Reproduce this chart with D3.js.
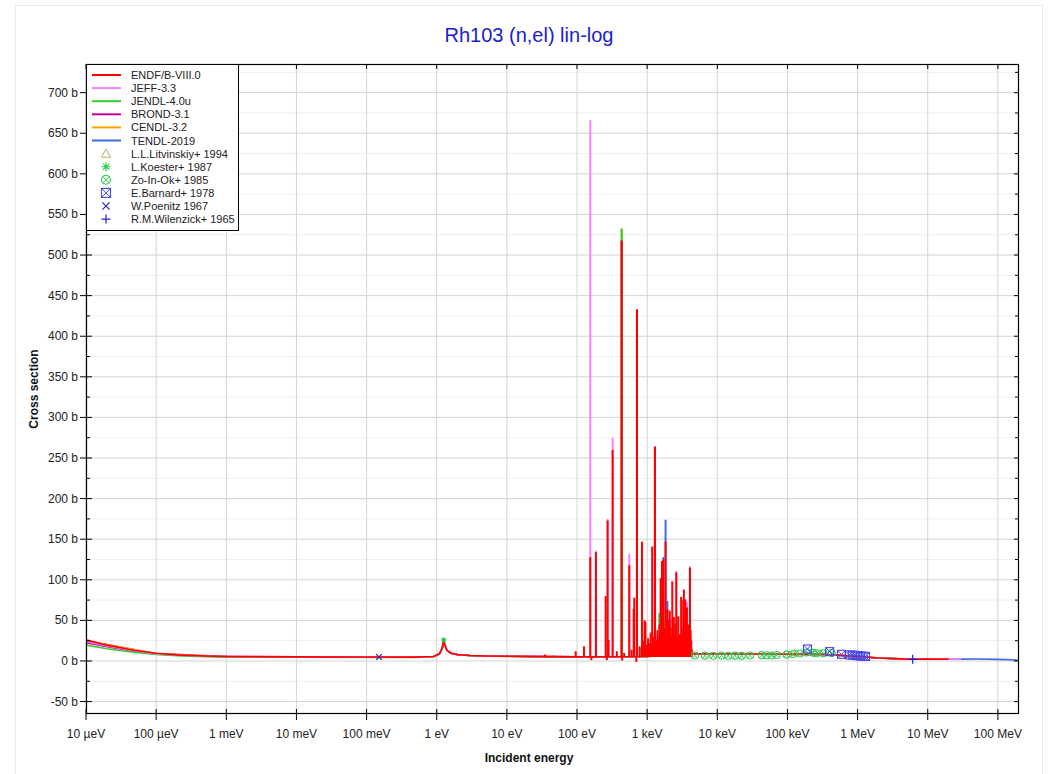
<!DOCTYPE html>
<html><head><meta charset="utf-8">
<script src="https://cdn.jsdelivr.net/npm/d3@7"></script>
<style>
html,body{margin:0;padding:0;background:#fff;}
text{font-family:"Liberation Sans",Arial,Helvetica,sans-serif;}
</style></head>
<body>
<svg id="chart" width="1063" height="774"></svg>
<script>
// ---------- data ----------
const title = "Rh103 (n,el) lin-log";
const xTickValues = [1e-5,1e-4,1e-3,1e-2,1e-1,1,10,100,1e3,1e4,1e5,1e6,1e7,1e8];
const xTickLabels = ["10 µeV","100 µeV","1 meV","10 meV","100 meV","1 eV","10 eV","100 eV","1 keV","10 keV","100 keV","1 MeV","10 MeV","100 MeV"];
const yMajorTicks = [-50,0,50,100,150,200,250,300,350,400,450,500,550,600,650,700];
const yMinorTicks = [-25,25,75,125,175,225,275,325,375,425,475,525,575,625,675,725];

// smooth parts of each evaluation: [energy eV, cross section b]
const endfCurve = [[1e-5,26],[2e-5,19.5],[3e-5,16.5],[5e-5,13],[1e-4,9.5],[2e-4,7.5],[5e-4,6.2],[1e-3,5.6],[1e-2,5.1],[0.1,4.9],[0.5,4.8],[0.9,5.5],[1.1,9],[1.2,16],[1.257,24.5],[1.3,20],[1.4,13],[1.6,9.5],[2,7.8],[3,6.8],[5,6.2],[10,5.8],[30,5.4],[100,5.0],[1000,5.5],[4500,9],[1e4,8.6],[1e5,8.5],[3e5,8.2],[6e5,6.8],[1e6,5.5],[2e6,3.6],[4e6,2.6],[6e6,2.2],[1e7,2.3],[2e7,2.1]];
const jeffCurve = [[1e-5,24],[2e-5,18.5],[5e-5,12.3],[1e-4,9.1],[2e-4,7.3],[5e-4,6.1],[1e-3,5.5],[1e-2,5.1],[0.1,4.9],[0.5,4.8],[0.9,5.5],[1.1,9],[1.2,16],[1.257,24.5],[1.3,20],[1.4,13],[1.6,9.5],[2,7.8],[3,6.8],[5,6.2],[10,5.8],[30,5.4],[100,5.0],[1000,5.5],[4500,9],[1e4,8.6],[1e5,8.5],[3e5,8.2],[6e5,6.8],[1e6,5.5],[2e6,3.6],[4e6,2.6],[6e6,2.2],[1e7,2.3],[2e7,2.1],[3e7,2.0]];
const jendlCurve = [[1e-5,19.5],[2e-5,15],[5e-5,10.5],[1e-4,8],[2e-4,6.5],[5e-4,5.4],[1e-3,5.0],[1e-2,4.6],[0.1,4.5],[0.5,4.5],[0.9,5.3],[1.1,9.5],[1.2,17],[1.257,27],[1.3,21],[1.4,13],[1.6,9.5],[2,7.6],[3,6.6],[5,6.0],[10,5.6],[30,5.3],[100,5.0],[1000,5.5],[4500,9],[1e4,8.6],[1e5,8.5],[3e5,8.2],[6e5,6.8],[1e6,5.5],[2e6,3.6],[4e6,2.6],[6e6,2.2],[1e7,2.3],[2e7,2.1]];
const brondCurve = [[1e-5,22.5],[2e-5,17.5],[5e-5,11.8],[1e-4,8.7],[2e-4,7.1],[5e-4,6.0],[1e-3,5.4],[1e-2,5.0],[0.1,4.8],[0.5,4.8],[0.9,5.5],[1.1,9],[1.2,16],[1.257,24.5],[1.3,20],[1.4,13],[1.6,9.5],[2,7.8],[3,6.8],[5,6.2],[10,5.8],[30,5.4],[100,5.0],[1000,5.5],[4500,9],[1e4,8.6],[1e5,8.5],[3e5,8.2],[6e5,6.8],[1e6,5.5],[2e6,3.6],[4e6,2.6],[6e6,2.2],[1e7,2.3],[2e7,2.1]];
const cendlCurve = [[1e-5,25],[1e-4,9.3],[1e-3,5.5],[1e-2,5.0],[0.1,4.8],[0.5,4.8],[0.9,5.5],[1.1,9],[1.2,16],[1.257,25],[1.3,20],[1.4,13],[1.6,9.5],[2,7.8],[3,6.8],[10,5.8],[100,5.0],[1000,5.5],[4500,9],[1e5,8.5],[3e5,8.2],[6e5,6.8],[1e6,5.5],[2e6,3.6],[6e6,2.2],[2e7,2.1]];
const tendlCurve = [[1e-5,25],[1e-4,9.3],[1e-3,5.5],[1e-2,5.0],[0.1,4.8],[0.5,4.8],[0.9,5.5],[1.1,9],[1.2,16],[1.257,24],[1.3,20],[1.4,13],[1.6,9.5],[2,7.8],[3,6.8],[10,5.8],[100,5.0],[1000,5.5],[4500,9],[1e5,8.5],[3e5,8.2],[6e5,6.8],[1e6,5.5],[2e6,3.6],[6e6,2.2],[2e7,2.2],[3e7,2.3],[5e7,2.4],[1e8,2.0],[1.5e8,1.5],[2e8,0.6]];

// resonance peaks (and interference dips): [energy eV, cross section b]
const endfPeaks = [[35,8],[46.8,6.5],[95.7,12],[125.6,18],[154.5,128],[160,1],[186,134],[256,80],[266,1],[273,173],[282,26],[322,260],[370,12],[433,518],[440,0.5],[470,10],[556,118],[600,14],[642,64],[655,78],[700,-1],[715,433],[780,18],[843,147],[880,25],[920,50],[945,48],[990,20],[1030,28],[1080,22],[1120,35],[1180,141],[1230,30],[1290,264],[1340,24],[1400,38],[1450,20],[1500,45],[1556,102],[1600,30],[1625,123],[1700,125],[1760,40],[1830,147],[1880,28],[1940,64],[2000,50],[2050,30],[2100,62],[2160,41],[2220,25],[2280,98],[2350,35],[2400,54],[2470,30],[2530,45],[2600,109],[2680,28],[2770,55],[2850,33],[2940,33],[3050,79],[3130,40],[3200,22],[3270,75],[3340,88],[3420,30],[3490,76],[3580,35],[3690,66],[3800,28],[3900,45],[4000,30],[4070,115],[4160,38],[4250,25],
  [1010,15],[1060,18],[1150,20],[1200,16],[1260,22],[1310,18],[1370,26],[1420,30],[1475,22],[1530,28],[1580,18],[1650,35],[1730,26],[1790,30],[1860,22],[1910,35],[1970,26],[2030,20],[2070,38],[2130,24],[2190,30],[2250,20],[2310,28],[2380,22],[2430,32],[2500,24],[2570,30],[2640,20],[2720,26],[2810,22],[2890,30],[2990,24],[3090,20],[3160,32],[3240,26],[3300,30],[3380,22],[3450,34],[3530,26],[3630,28],[3740,22],[3850,32],[3950,24],[4030,26],[4110,30],[4200,22],[4300,15]];
const jeffPeaks = [[154.5,666],[186,136],[273,175],[322,275],[556,132],[2600,111],[3690,73],[4070,117]];
const jendlPeaks = [[433,532],[789,16],[1490,59],[1700,60]];
const brondPeaks = [[433,518],[715,433],[1290,264]];
const cendlPeaks = [[433,533]];
const tendlPeaks = [[1700,128],[1830,174],[1940,74],[2080,52]];

// experimental data: [energy eV, cross section b]
const litvinskiy = [[1.28e5,10.2]];
const koester = [[1.257,26]];
const zoInOk = [[4.8e3,6.8],[6.65e3,6.6],[8.75e3,6.5],[11.5e3,6.8],[14.3e3,6.4],[17.9e3,6.6],[22.2e3,6.3],[29.2e3,6.8],[42.9e3,7.2],[50.5e3,7.0],[59.6e3,6.8],[70.2e3,7.4],[97.5e3,7.8],[121e3,8.6],[151e3,9.2],[188e3,10.4],[233e3,10.0],[261e3,9.6],[324e3,9.4],[427e3,9.8]];
const barnard = [[1.93e5,14.8],[4.0e5,11.5],[5.9e5,8.2],[7.6e5,7.5],[8.4e5,7.3],[9.2e5,6.8],[1.0e6,6.5],[1.1e6,6.2],[1.2e6,5.9],[1.3e6,5.6]];
const poenitz = [[0.15,5.0]];
const wilenzick = [[6.1e6,2.1]];

const libNames = ["ENDF/B-VIII.0","JEFF-3.3","JENDL-4.0u","BROND-3.1","CENDL-3.2","TENDL-2019"];
const libColors = ["#ff0000","#ff80ff","#33cc33","#cc0099","#ffa500","#4169e1"];
const expNames = ["L.L.Litvinskiy+ 1994","L.Koester+ 1987","Zo-In-Ok+ 1985","E.Barnard+ 1978","W.Poenitz 1967","R.M.Wilenzick+ 1965"];
const expColors = ["#b8b060","#22cc44","#33cc55","#4646e6","#2a2ab0","#2222cc"];

// ---------- layout ----------
const svg = d3.select("#chart");
const L = 86, R = 1019, T = 64, B = 714;
const x = d3.scaleLog().domain([1e-5, 2e8]).range([L, R]);
const y = d3.scaleLinear().domain([-65.3, 735.3]).range([B, T]);

svg.append("rect").attr("x",15.5).attr("y",5.5).attr("width",1027).attr("height",780)
  .attr("fill","#fff").attr("stroke","#ebebeb");

// grid
const g = svg.append("g");
g.selectAll(".ymin").data(yMinorTicks.filter(v=>v<735)).join("line")
  .attr("x1",L).attr("x2",R).attr("y1",d=>y(d)).attr("y2",d=>y(d))
  .attr("stroke","#efefef").attr("stroke-width",1);
g.selectAll(".ymaj").data(yMajorTicks).join("line")
  .attr("x1",L).attr("x2",R).attr("y1",d=>y(d)).attr("y2",d=>y(d))
  .attr("stroke","#d4d4d4").attr("stroke-width",1);
g.selectAll(".xmaj").data(xTickValues).join("line")
  .attr("x1",d=>x(d)).attr("x2",d=>x(d)).attr("y1",T).attr("y2",B)
  .attr("stroke","#d4d4d4").attr("stroke-width",1);

// data
svg.append("clipPath").attr("id","clip").append("rect")
  .attr("x",L).attr("y",T).attr("width",R-L).attr("height",B-T);
const plot = svg.append("g").attr("clip-path","url(#clip)");
const line = d3.line().x(d=>x(d[0])).y(d=>y(d[1]));

const libs = [
  {curve:endfCurve, peaks:endfPeaks},
  {curve:jeffCurve, peaks:jeffPeaks},
  {curve:jendlCurve, peaks:jendlPeaks},
  {curve:brondCurve, peaks:brondPeaks},
  {curve:cendlCurve, peaks:cendlPeaks},
  {curve:tendlCurve, peaks:tendlPeaks}
];
const spikeBase = 5;
for (let i = libs.length-1; i >= 0; i--) {
  const lib = libs[i], col = libColors[i];
  plot.append("path").datum(lib.curve).attr("d",line)
    .attr("fill","none").attr("stroke",col).attr("stroke-width",1.6).attr("stroke-linejoin","round");
  plot.append("g").selectAll("line").data(lib.peaks).join("line")
    .attr("x1",d=>x(d[0])).attr("x2",d=>x(d[0]))
    .attr("y1",y(spikeBase)).attr("y2",d=>y(d[1]))
    .attr("stroke",col).attr("stroke-width",2);
}

// marker drawing
function drawMarker(sel, type, col, s) {
  const h = s/2;
  if (type === "tri") {
    sel.append("path").attr("d",`M0,${-h}L${h},${h*0.8}L${-h},${h*0.8}Z`).attr("fill","none").attr("stroke",col).attr("stroke-width",1);
  } else if (type === "ast") {
    sel.append("path").attr("d",`M0,${-h}V${h}M${-h},0H${h}M${-h*0.7},${-h*0.7}L${h*0.7},${h*0.7}M${-h*0.7},${h*0.7}L${h*0.7},${-h*0.7}`).attr("stroke",col).attr("stroke-width",1.1);
  } else if (type === "cx") {
    sel.append("circle").attr("r",h).attr("fill","none").attr("stroke",col).attr("stroke-width",1.1);
    const k = h*0.7;
    sel.append("path").attr("d",`M${-k},${-k}L${k},${k}M${-k},${k}L${k},${-k}`).attr("stroke",col).attr("stroke-width",1);
  } else if (type === "sx") {
    sel.append("rect").attr("x",-h).attr("y",-h).attr("width",s).attr("height",s).attr("fill","none").attr("stroke",col).attr("stroke-width",1.1);
    sel.append("path").attr("d",`M${-h},${-h}L${h},${h}M${-h},${h}L${h},${-h}`).attr("stroke",col).attr("stroke-width",1);
  } else if (type === "x") {
    const k = h*0.8;
    sel.append("path").attr("d",`M${-k},${-k}L${k},${k}M${-k},${k}L${k},${-k}`).attr("stroke",col).attr("stroke-width",1.2);
  } else if (type === "plus") {
    sel.append("path").attr("d",`M0,${-h}V${h}M${-h},0H${h}`).attr("stroke",col).attr("stroke-width",1.2);
  }
}
const expSets = [litvinskiy, koester, zoInOk, barnard, poenitz, wilenzick];
const expTypes = ["tri","ast","cx","sx","x","plus"];
const expSizes = [7,5,7,8,7,9];
expSets.forEach((set,i)=>{
  plot.append("g").selectAll("g").data(set).join("g")
    .attr("transform",d=>`translate(${x(d[0])},${y(d[1])})`)
    .each(function(){ drawMarker(d3.select(this), expTypes[i], expColors[i], expSizes[i]); });
});

// frame and ticks
svg.append("rect").attr("x",L+0.5).attr("y",T+0.5).attr("width",R-L-1).attr("height",B-T-1)
  .attr("fill","none").attr("stroke","#000").attr("stroke-width",1.2);
const ax = svg.append("g").attr("stroke","#000").attr("stroke-width",1);
yMajorTicks.forEach(v=>{
  ax.append("line").attr("x1",L-6).attr("x2",L+6).attr("y1",y(v)).attr("y2",y(v));
  ax.append("line").attr("x1",R-5).attr("x2",R).attr("y1",y(v)).attr("y2",y(v));
});
yMinorTicks.filter(v=>v<735).forEach(v=>{
  ax.append("line").attr("x1",L).attr("x2",L+4).attr("y1",y(v)).attr("y2",y(v));
  ax.append("line").attr("x1",R-4).attr("x2",R).attr("y1",y(v)).attr("y2",y(v));
});
xTickValues.forEach(v=>{
  ax.append("line").attr("x1",x(v)).attr("x2",x(v)).attr("y1",B-5).attr("y2",B+6);
  ax.append("line").attr("x1",x(v)).attr("x2",x(v)).attr("y1",T).attr("y2",T+5);
});

// tick labels
svg.append("g").selectAll("text").data(yMajorTicks).join("text")
  .attr("x",L-8).attr("y",d=>y(d)+4).attr("text-anchor","end")
  .attr("font-size",12).attr("fill","#222").text(d=>d+" b");
svg.append("g").selectAll("text").data(xTickValues).join("text")
  .attr("x",d=>x(d)).attr("y",B+24).attr("text-anchor","middle")
  .attr("font-size",12).attr("fill","#222").text((d,i)=>xTickLabels[i]);

// titles
svg.append("text").attr("x",529).attr("y",42).attr("text-anchor","middle")
  .attr("font-size",20).attr("fill","#1c1cd0").text(title);
svg.append("text").attr("x",529).attr("y",762).attr("text-anchor","middle")
  .attr("font-size",12).attr("font-weight","bold").attr("fill","#111").text("Incident energy");
svg.append("text").attr("transform","translate(38,389) rotate(-90)").attr("text-anchor","middle")
  .attr("font-size",12).attr("font-weight","bold").attr("fill","#111").text("Cross section");

// legend
const lg = svg.append("g");
lg.append("rect").attr("x",L+0.5).attr("y",T+0.5).attr("width",152).attr("height",166)
  .attr("fill","#fff").attr("stroke","#000").attr("stroke-width",1);
const rowY = i => 75 + i*13.1;
libNames.forEach((n,i)=>{
  lg.append("line").attr("x1",92).attr("x2",121).attr("y1",rowY(i)).attr("y2",rowY(i))
    .attr("stroke",libColors[i]).attr("stroke-width",2);
  lg.append("text").attr("x",131).attr("y",rowY(i)+4).attr("font-size",11).attr("fill","#222").text(n);
});
expNames.forEach((n,j)=>{
  const i = j + libNames.length;
  const mg = lg.append("g").attr("transform",`translate(106,${rowY(i)})`);
  drawMarker(mg, expTypes[j], expColors[j], 9);
  lg.append("text").attr("x",131).attr("y",rowY(i)+4).attr("font-size",11).attr("fill","#222").text(n);
});
</script>
</body></html>
